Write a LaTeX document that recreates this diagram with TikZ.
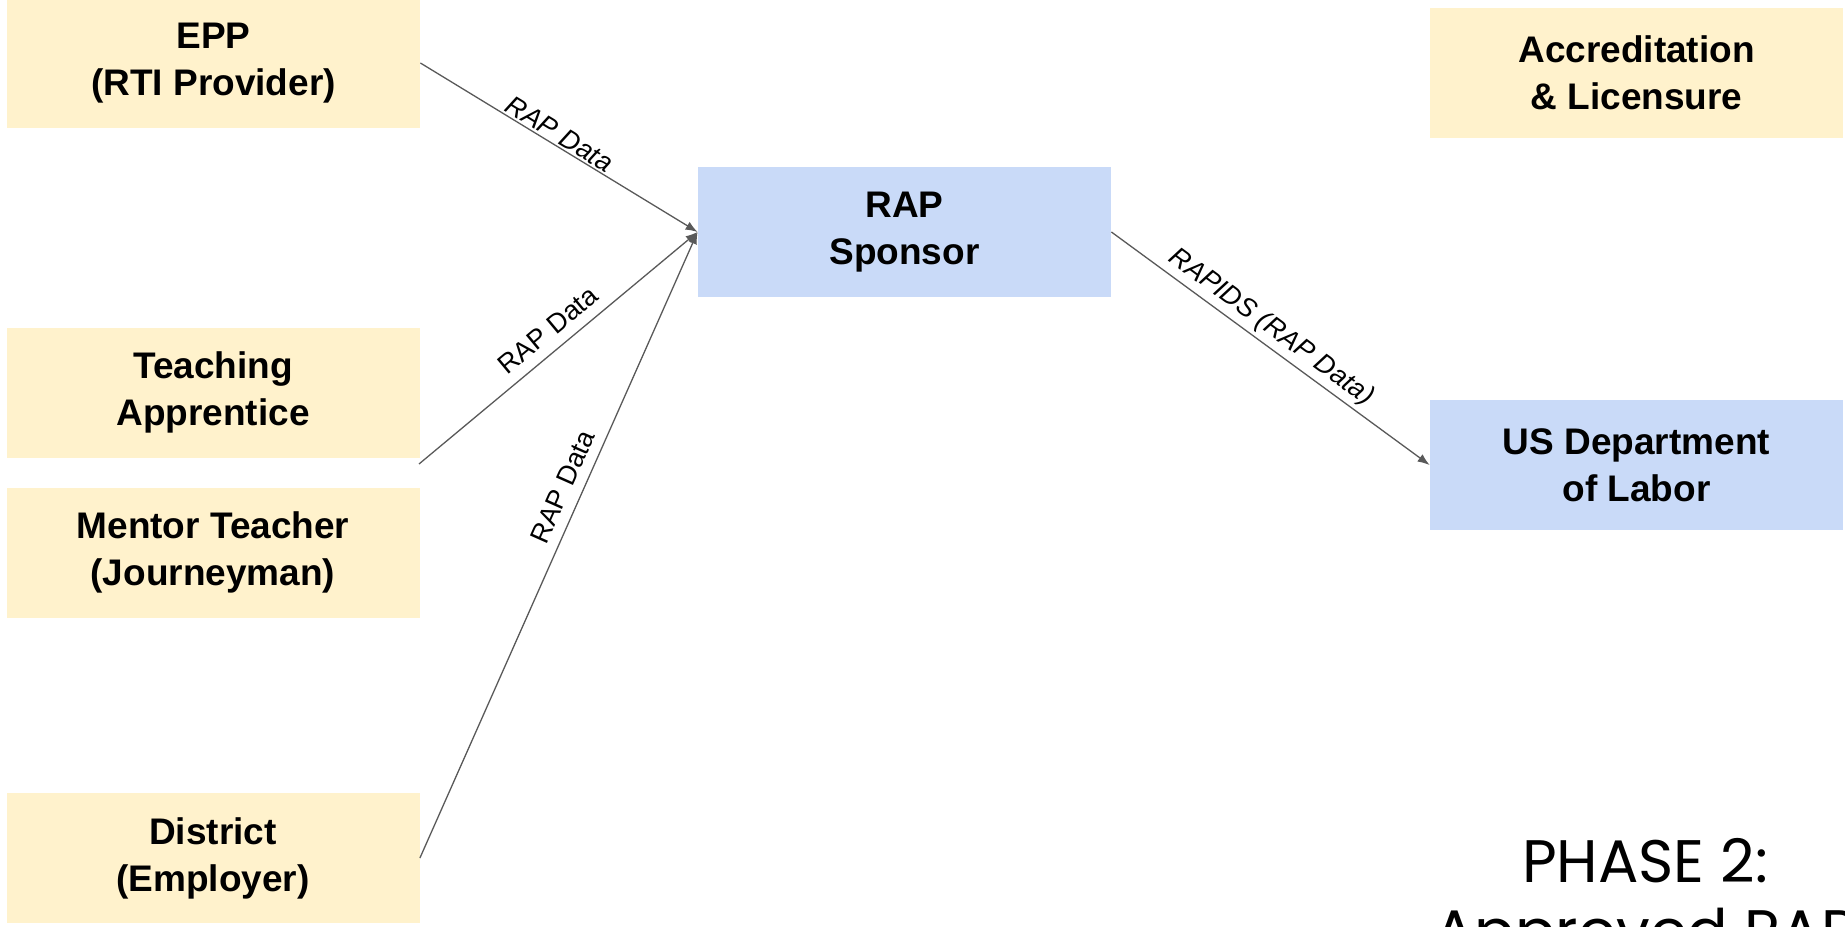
\documentclass[tikz,border=0pt]{standalone}
\usepackage{fontspec}
\setmainfont{Liberation Sans}
\newfontfamily\phasefont{Poppins}
\usetikzlibrary{arrows.meta}
\definecolor{partyyellow}{HTML}{FFF2CC}
\definecolor{agencyblue}{HTML}{C9DAF8}
\definecolor{flowgray}{HTML}{595959}
\tikzset{
  party/.style={fill=partyyellow,minimum width=206.5pt,minimum height=65pt,inner sep=0pt,align=center,
    font=\bfseries\fontsize{18.5}{23.5}\selectfont},
  agency/.style={party,fill=agencyblue},
  flow/.style={draw=flowgray,line width=0.65pt,-{Latex[length=6pt,width=4.5pt]}},
  flowtext/.style={sloped,inner sep=1pt,font=\fontsize{13.5}{16}\selectfont},
  flowtextit/.style={flowtext,font=\fontsize{13.5}{16}\selectfont\itshape}
}
\begin{document}
\begin{tikzpicture}[x=0.5pt,y=-0.5pt]
\useasboundingbox (0,0) rectangle (1845,926);
\clip (0,0) rectangle (1845,926);
\node[party] (epp) at (213.5,63) {EPP\\(RTI Provider)};
\node[party] (apprentice) at (213,392.5) {Teaching\\Apprentice};
\node[party] (mentor) at (213,552.5) {Mentor Teacher\\(Journeyman)};
\node[party] (district) at (213,858) {District\\(Employer)};
\node[agency] (sponsor) at (904.5,232) {RAP\\Sponsor};
\node[party] (accred) at (1636.5,73) {Accreditation\\\& Licensure};
\node[agency] (dol) at (1636.5,465) {US Department\\of Labor};
\coordinate (apprenticeout) at (419,464);
\draw[flow] (epp.east) -- node[flowtextit,above,pos=0.48]{RAP Data} (sponsor.west);
\draw[flow] (apprenticeout) -- node[flowtext,above=4pt,pos=0.51]{RAP Data} (sponsor.west);
\draw[flow] (district.east) -- node[flowtext,above=4pt,pos=0.58]{RAP Data} (sponsor.west);
\draw[flow] (sponsor.east) -- node[flowtextit,above=1pt,pos=0.47]{RAPIDS (RAP Data)} (dol.west);
\node[anchor=base,font=\phasefont\fontsize{30}{36}\selectfont] (phase) at (1645,882) {PHASE 2:};
\node[anchor=base,font=\phasefont\fontsize{30}{36}\selectfont] (phasesub) at (1645,952) {Approved RAP};
\end{tikzpicture}
\end{document}
